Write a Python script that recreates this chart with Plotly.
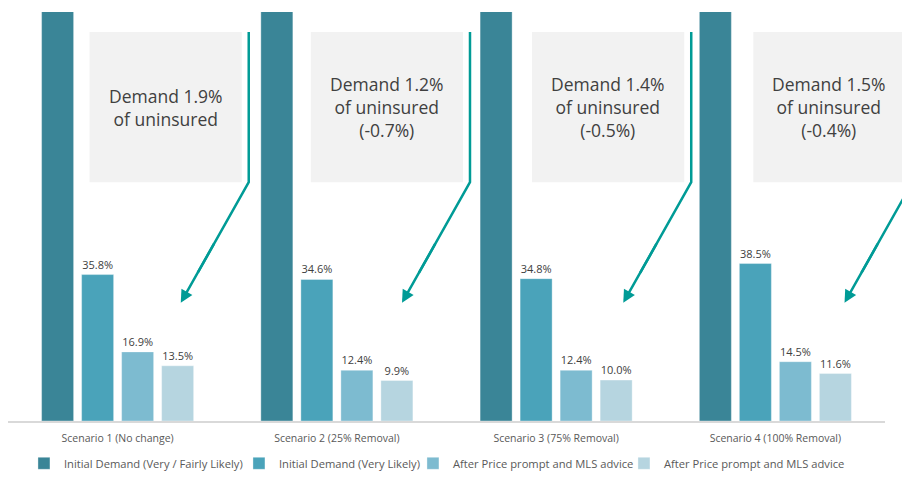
import plotly.graph_objects as go

categories = [
    "Scenario 1 (No change)",
    "Scenario 2 (25% Removal)",
    "Scenario 3 (75% Removal)",
    "Scenario 4 (100% Removal)",
]
series_names = [
    "Initial Demand (Very / Fairly Likely)",
    "Initial Demand (Very Likely)",
    "After Price prompt and MLS advice",
    "After Price prompt and MLS advice",
]
# first series runs off the top of the visible area, exact values unreadable
initial_very_fairly = [110.0, 110.0, 110.0, 110.0]
initial_very = [35.8, 34.6, 34.8, 38.5]
after_prompt_a = [16.9, 12.4, 12.4, 14.5]
after_prompt_b = [13.5, 9.9, 10.0, 11.6]
box_texts = [
    "Demand 1.9%<br>of uninsured",
    "Demand 1.2%<br>of uninsured<br>(-0.7%)",
    "Demand 1.4%<br>of uninsured<br>(-0.5%)",
    "Demand 1.5%<br>of uninsured<br>(-0.4%)",
]

colors = ["#3a8597", "#4aa3ba", "#7dbbd0", "#b6d5e0"]
legend_widths = [170, 129, 166, 190]
font = "Open Sans, Segoe UI, sans-serif"
y_max = 100

fig = go.Figure()
for name, vals, color, labelled, lw in zip(
    series_names,
    [initial_very_fairly, initial_very, after_prompt_a, after_prompt_b],
    colors,
    [False, True, True, True],
    legend_widths,
):
    fig.add_trace(
        go.Bar(
            x=categories,
            y=vals,
            name=name,
            legendwidth=lw,
            marker={"color": color, "line": {"color": "rgba(255,255,255,0.35)", "width": 1}},
            texttemplate="%{y:.1f}%" if labelled else None,
            textposition="outside" if labelled else "none",
            textfont={"size": 11, "color": "#404040", "family": font},
            cliponaxis=False,
            hoverinfo="skip",
        )
    )


def px(xd):
    return (xd + 0.5) / len(categories)


def py(yd):
    return yd / y_max


# callout boxes sit slightly wider apart than the bar groups
step = 221 / 219
box_top, box_bottom = 95.1, 58.4
tip_y = 28.9
shapes = []
annotations = []
for i, txt in enumerate(box_texts):
    c = i * step
    line_x = c + 0.598
    tip_x = c + 0.288
    # shaft drawn as a shape, the annotation only supplies the arrowhead end
    shaft_end_x = line_x + 0.75 * (tip_x - line_x)
    shaft_end_y = box_bottom + 0.75 * (tip_y - box_bottom)
    shapes.append(
        dict(
            type="rect", xref="paper", yref="paper",
            x0=px(c - 0.128), x1=px(c + 0.566),
            y0=py(box_bottom), y1=py(box_top),
            fillcolor="#f2f2f2", line={"width": 0}, layer="below",
        )
    )
    shapes.append(
        dict(
            type="path", xref="paper", yref="paper",
            path=(
                f"M {px(line_x)},{py(box_top)} L {px(line_x)},{py(box_bottom)} "
                f"L {px(shaft_end_x)},{py(shaft_end_y)}"
            ),
            line={"color": "#009b96", "width": 2.5},
        )
    )
    annotations.append(
        dict(
            x=px(c + 0.219), xref="paper", y=py((box_top + box_bottom) / 2), yref="paper",
            xanchor="center", yanchor="middle",
            text=txt, showarrow=False,
            font={"size": 17.5, "color": "#404040", "family": font},
        )
    )
    annotations.append(
        dict(
            x=tip_x, y=tip_y, xref="x", yref="y",
            ax=(tip_x + line_x) / 2, ay=(tip_y + box_bottom) / 2, axref="x", ayref="y",
            text="", showarrow=True, arrowhead=2, arrowsize=1,
            arrowwidth=2.5, arrowcolor="#009b96",
        )
    )

fig.update_layout(
    width=902,
    height=500,
    autosize=False,
    margin={"l": 8, "r": 17, "t": 12, "b": 79},
    paper_bgcolor="white",
    plot_bgcolor="white",
    barmode="group",
    bargap=0.27,
    bargroupgap=0.2,
    font={"family": font, "color": "#595959"},
    showlegend=True,
    legend={
        "orientation": "h", "x": 0.0182, "xanchor": "left", "y": -0.068, "yanchor": "top",
        "font": {"size": 11.2, "color": "#595959", "family": font},
        "traceorder": "normal",
    },
    xaxis={
        "showline": True, "linecolor": "#d9d9d9", "linewidth": 2,
        "tickfont": {"size": 10.5, "color": "#595959", "family": font},
        "ticks": "", "ticklabelstandoff": 6,
    },
    yaxis={"range": [0, y_max], "visible": False, "showgrid": False},
    shapes=shapes,
    annotations=annotations,
)

# drop the default 8px body margin so the figure fills the window exactly
fig.write_html(
    "out.html",
    config={"displayModeBar": False},
    post_script="document.body.style.margin = '0';",
)
